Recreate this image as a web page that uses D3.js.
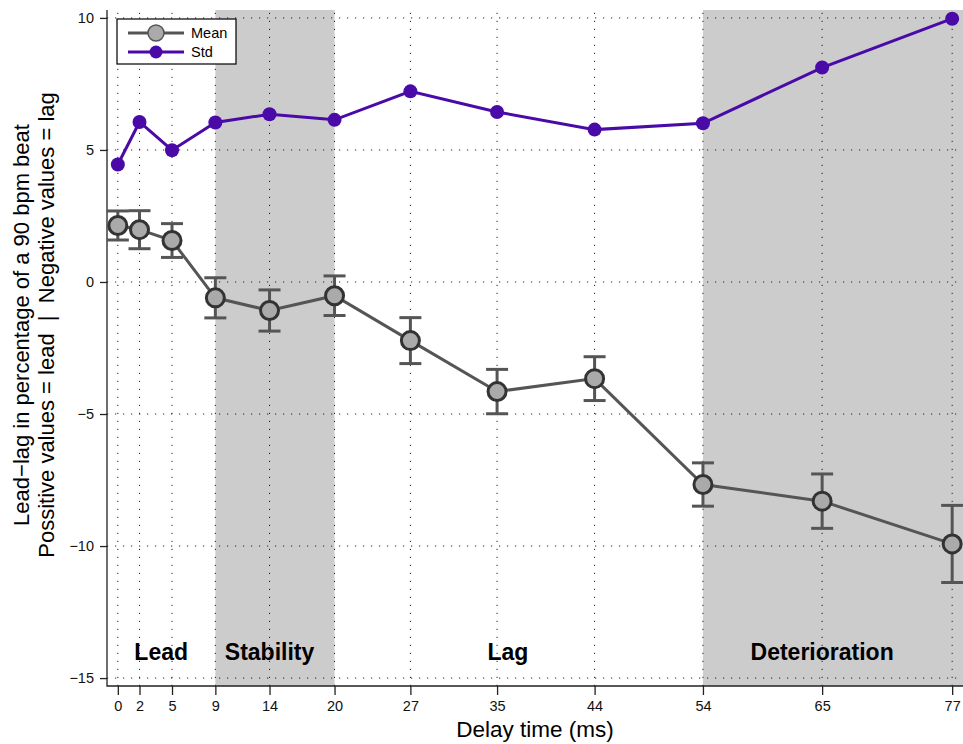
<!DOCTYPE html>
<html lang="en">
<head>
<meta charset="UTF-8">
<title>Lead-lag vs delay time</title>
<script src="https://d3js.org/d3.v7.min.js"></script>
<style>
  body { margin: 0; background: #fff; }
  text { font-family: "Liberation Sans", Arial, Helvetica, sans-serif; }
</style>
</head>
<body>
<script>
    // data
    var delays = [0, 2, 5, 9, 14, 20, 27, 35, 44, 54, 65, 77];
    var meanVals = [2.14, 1.98, 1.57, -0.60, -1.08, -0.52, -2.22, -4.15, -3.66, -7.67, -8.30, -9.92];
    var errVals = [0.55, 0.72, 0.64, 0.76, 0.78, 0.75, 0.87, 0.84, 0.83, 0.82, 1.03, 1.46];
    var stdVals = [4.45, 6.06, 4.99, 6.04, 6.35, 6.14, 7.22, 6.44, 5.77, 6.01, 8.12, 9.97];
    var yTicks = [10, 5, 0, -5, -10, -15];
    var phases = [
        { name: "Lead", from: null, to: null, at: 4 },
        { name: "Stability", from: 9, to: 20, at: 14 },
        { name: "Lag", from: null, to: null, at: 36 },
        { name: "Deterioration", from: 54, to: 78, at: 65 }
    ];

    var width = 963, height = 744;
    var margin = { top: 10, right: 0, bottom: 58, left: 107 };
    var plotB = height - margin.bottom;

    var svg = d3.select("body").append("svg")
        .attr("width", width)
        .attr("height", height);

    var x = d3.scaleLinear().domain([-1, 78]).range([margin.left, width - margin.right]);
    var y = d3.scaleLinear().domain([-15.3, 10.3]).range([plotB, margin.top]);

    // shaded phases
    svg.selectAll("rect.phase")
        .data(phases.filter(function (p) { return p.from !== null; }))
        .enter().append("rect")
        .attr("class", "phase")
        .attr("x", function (p) { return x(p.from); })
        .attr("y", margin.top)
        .attr("width", function (p) { return x(p.to) - x(p.from); })
        .attr("height", plotB - margin.top)
        .attr("fill", "#cccccc");

    // dotted grid
    var grid = svg.append("g").attr("stroke", "#222").attr("stroke-width", 1)
        .attr("stroke-dasharray", "1.2,6.8");
    grid.selectAll("line.v").data(delays).enter().append("line")
        .attr("x1", function (d) { return x(d); }).attr("x2", function (d) { return x(d); })
        .attr("y1", plotB).attr("y2", margin.top);
    grid.selectAll("line.h").data(yTicks).enter().append("line")
        .attr("y1", function (d) { return y(d); }).attr("y2", function (d) { return y(d); })
        .attr("x1", margin.left).attr("x2", width);

    // axes
    var xAxis = svg.append("g")
        .attr("transform", "translate(0," + plotB + ")")
        .call(d3.axisBottom(x).tickValues(delays).tickSize(9).tickPadding(6));
    var yAxis = svg.append("g")
        .attr("transform", "translate(" + margin.left + ",0)")
        .call(d3.axisLeft(y).tickValues(yTicks).tickSize(7).tickPadding(6)
            .tickFormat(function (d) { return d < 0 ? "\u2212" + Math.abs(d) : d; }));
    [xAxis, yAxis].forEach(function (a) {
        a.select(".domain").remove();
        a.selectAll(".tick line").attr("stroke", "#222").attr("stroke-width", 1.3);
        a.selectAll(".tick text").attr("font-size", 14.5).attr("fill", "#111")
            .style("font-family", "'Liberation Sans', Arial, sans-serif");
    });
    svg.append("path")
        .attr("d", "M" + margin.left + "," + margin.top + "V" + plotB + "H" + width)
        .attr("fill", "none").attr("stroke", "#222").attr("stroke-width", 1.3);

    // phase labels
    svg.selectAll("text.phase").data(phases).enter().append("text")
        .attr("x", function (p) { return x(p.at); })
        .attr("y", 660)
        .attr("text-anchor", "middle")
        .attr("font-size", 23).attr("font-weight", "bold")
        .text(function (p) { return p.name; });

    // axis titles
    svg.append("text")
        .attr("x", (margin.left + width) / 2).attr("y", 737)
        .attr("text-anchor", "middle").attr("font-size", 22.5)
        .text("Delay time (ms)");
    var yt = svg.append("text")
        .attr("transform", "translate(0,325) rotate(-90)")
        .attr("text-anchor", "middle").attr("font-size", 22)
        .style("white-space", "pre");
    yt.append("tspan").attr("x", 0).attr("y", 29).text("Lead\u2212lag in percentage of a 90 bpm beat");
    yt.append("tspan").attr("x", 0).attr("y", 54).text("Possitive values = lead \u00a0|\u00a0 Negative values = lag");

    var meanData = delays.map(function (d, i) { return { x: d, y: meanVals[i], e: errVals[i] }; });
    var stdData = delays.map(function (d, i) { return { x: d, y: stdVals[i] }; });
    var line = d3.line().x(function (d) { return x(d.x); }).y(function (d) { return y(d.y); });

    // std series
    var stdColor = "#4a0aa8";
    svg.append("path").datum(stdData).attr("d", line)
        .attr("fill", "none").attr("stroke", stdColor).attr("stroke-width", 3);
    svg.selectAll("circle.std").data(stdData).enter().append("circle")
        .attr("cx", function (d) { return x(d.x); }).attr("cy", function (d) { return y(d.y); })
        .attr("r", 7).attr("fill", stdColor);

    // mean series with error bars
    var meanLine = "#555555";
    svg.append("path").datum(meanData).attr("d", line)
        .attr("fill", "none").attr("stroke", meanLine).attr("stroke-width", 3);
    var eb = svg.selectAll("g.eb").data(meanData).enter().append("g")
        .attr("stroke", meanLine).attr("stroke-width", 3);
    eb.append("line")
        .attr("x1", function (d) { return x(d.x); }).attr("x2", function (d) { return x(d.x); })
        .attr("y1", function (d) { return y(d.y - d.e); }).attr("y2", function (d) { return y(d.y + d.e); });
    [-1, 1].forEach(function (s) {
        eb.append("line")
            .attr("x1", function (d) { return x(d.x) - 11; }).attr("x2", function (d) { return x(d.x) + 11; })
            .attr("y1", function (d) { return y(d.y + s * d.e); }).attr("y2", function (d) { return y(d.y + s * d.e); });
    });
    svg.selectAll("circle.mean").data(meanData).enter().append("circle")
        .attr("cx", function (d) { return x(d.x); }).attr("cy", function (d) { return y(d.y); })
        .attr("r", 9).attr("fill", "#aaaaaa").attr("stroke", "#333").attr("stroke-width", 3);

    // legend
    var lg = svg.append("g").attr("transform", "translate(117,19)");
    lg.append("rect").attr("width", 119).attr("height", 45)
        .attr("fill", "#fff").attr("stroke", "#111").attr("stroke-width", 1.3);
    lg.append("line").attr("x1", 11).attr("x2", 67).attr("y1", 14).attr("y2", 14)
        .attr("stroke", meanLine).attr("stroke-width", 3);
    lg.append("circle").attr("cx", 39).attr("cy", 14)
        .attr("r", 8).attr("fill", "#aaaaaa").attr("stroke", "#555").attr("stroke-width", 1.5);
    lg.append("text").attr("x", 74).attr("y", 19).attr("font-size", 14.5).text("Mean");
    lg.append("line").attr("x1", 11).attr("x2", 67).attr("y1", 33).attr("y2", 33)
        .attr("stroke", stdColor).attr("stroke-width", 3);
    lg.append("circle").attr("cx", 39).attr("cy", 33).attr("r", 6.5).attr("fill", stdColor);
    lg.append("text").attr("x", 74).attr("y", 38).attr("font-size", 14.5).text("Std");
</script>
</body>
</html>
